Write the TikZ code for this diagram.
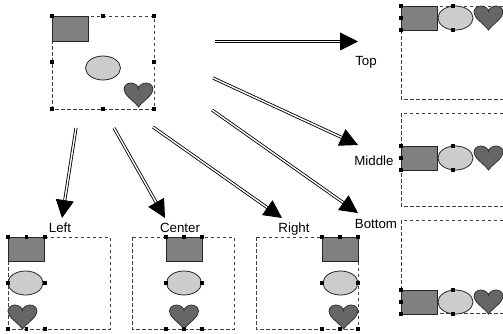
\documentclass[tikz,border=0pt]{standalone}
\usepackage{fontspec}
\setmainfont{Liberation Sans}
\usetikzlibrary{arrows.meta,shapes.geometric}
\tikzset{
 frame/.style={draw=black!75, dash pattern=on 3.5pt off 2.5pt, line width=0.7pt},
 rectsh/.style={draw=black!85, fill=black!50, line width=0.8pt},
 ellsh/.style={draw=black!85, fill=black!20, line width=0.8pt},
 heartsh/.style={draw=black!80, fill=black!60, line width=0.8pt},
 dbl/.style={double=white, double distance=1.4pt, line width=0.85pt, -{Triangle[length=18pt,width=18pt]}},
 lbl/.style={font=\fontsize{13.3}{15}\selectfont, inner sep=0pt, anchor=base},
}
\newcommand\myheart[2]{\path[heartsh, shift={(#1,#2)}] (14.5,24) .. controls (9,17) and (0,12) .. (0,6.5) .. controls (0,2.5) and (3,0) .. (7,0) .. controls (11,0) and (14.5,3) .. (14.5,5.5) .. controls (14.5,3) and (18,0) .. (22,0) .. controls (26,0) and (29,2.5) .. (29,6.5) .. controls (29,12) and (20,17) .. (14.5,24) -- cycle;}
\newcommand\hdl[1]{\fill[black] (#1) ++(-1.6,-1.6) rectangle ++(3.2,3.2);}
\begin{document}
\begin{tikzpicture}[x=1pt,y=-1pt]
\useasboundingbox (0,0) rectangle (503,333);
\clip (0,0) rectangle (503,333);
% frames
\draw[frame] (52,16) rectangle (154,109);
\draw[frame] (401,6) rectangle (503,99);
\draw[frame] (401,113) rectangle (503,206);
\draw[frame] (401,220) rectangle (503,313);
\draw[frame] (8,237) rectangle (110,329);
\draw[frame] (132,237) rectangle (234,329);
\draw[frame] (256,237) rectangle (358,329);
% source
\path[rectsh] (52,16) rectangle (88,41);
\path[ellsh] (103,68) ellipse [x radius=17.5, y radius=12];
\myheart{124}{83}
\foreach \p in {{52,16},{103,16},{154,16},{52,62},{154,62},{52,109},{103,109},{154,109}} {\hdl{\p}}
% top
\path[rectsh] (401,6) rectangle (437,30);
\path[ellsh] (455.5,18) ellipse [x radius=17.5, y radius=12];
\myheart{474}{6}
\foreach \p in {{401,6},{401,18},{401,30},{453,6},{453,30},{505,6},{505,18},{505,30}} {\hdl{\p}}
% middle
\path[rectsh] (401,146) rectangle (437,170);
\path[ellsh] (455.5,158) ellipse [x radius=17.5, y radius=12];
\myheart{474}{146}
\foreach \p in {{401,146},{401,158},{401,170},{453,146},{453,170},{505,146},{505,158},{505,170}} {\hdl{\p}}
% bottom
\path[rectsh] (401,290) rectangle (437,314);
\path[ellsh] (455.5,302) ellipse [x radius=17.5, y radius=12];
\myheart{474}{290}
\foreach \p in {{401,290},{401,302},{401,314},{453,290},{453,314},{505,290},{505,302},{505,314}} {\hdl{\p}}
% left
\path[rectsh] (8,237) rectangle (44,261);
\path[ellsh] (25.5,283) ellipse [x radius=17.5, y radius=12];
\myheart{8}{305}
\foreach \p in {{8,237},{26.5,237},{45,237},{8,283},{45,283},{8,329},{26.5,329},{45,329}} {\hdl{\p}}
% center
\path[rectsh] (166,237) rectangle (202,261);
\path[ellsh] (184,283) ellipse [x radius=17.5, y radius=12];
\myheart{169.5}{305}
\foreach \p in {{166,237},{184,237},{202,237},{166,283},{202,283},{166,329},{184,329},{202,329}} {\hdl{\p}}
% right
\path[rectsh] (322,237) rectangle (358,261);
\path[ellsh] (340.5,283) ellipse [x radius=17.5, y radius=12];
\myheart{329}{305}
\foreach \p in {{322,237},{340,237},{358,237},{322,283},{358,283},{322,329},{340,329},{358,329}} {\hdl{\p}}
% labels
\node[lbl] (ltop) at (366,65) {Top};
\node[lbl] (lmid) at (374,165) {Middle};
\node[lbl] (lbot) at (376,228) {Bottom};
\node[lbl] (lleft) at (60,232) {Left};
\node[lbl] (lcen) at (180,232) {Center};
\node[lbl] (lright) at (294,232) {Right};
% arrow coordinates
\coordinate (sT) at (215,41.5);  \coordinate (eT) at (358,41.5);
\coordinate (sM) at (213,78);  \coordinate (eM) at (358,145);
\coordinate (sB) at (212,110); \coordinate (eB) at (358,213);
\coordinate (sL) at (76,128);  \coordinate (eL) at (62,218);
\coordinate (sC) at (114,128); \coordinate (eC) at (165,218);
\coordinate (sR) at (153,127); \coordinate (eR) at (282,218);
\draw[dbl] (sT) -- (eT);
\draw[dbl] (sM) -- (eM);
\draw[dbl] (sB) -- (eB);
\draw[dbl] (sL) -- (eL);
\draw[dbl] (sC) -- (eC);
\draw[dbl] (sR) -- (eR);
\end{tikzpicture}
\end{document}
